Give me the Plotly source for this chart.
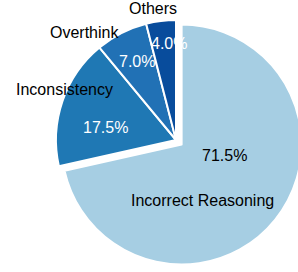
import plotly.graph_objects as go

# ---- data ----
categories = ["Incorrect Reasoning", "Inconsistency", "Overthink", "Others"]
shares = [71.5, 17.5, 7.0, 4.0]
pct_labels = ["71.5%", "17.5%", "7.0%", "4.0%"]

# ---- styling ----
colors = ["#a6cee3", "#1f78b4", "#2171b5", "#084c9c"]
pulls = [0.06, 0, 0, 0]
pct_colors = ["black", "white", "white", "white"]

W, H = 320, 272          # figure wider than the 298px window: right edge of pie is cropped as in reference
CX, CY, R = 176, 140, 120  # pie centre / radius in px
maxpull = max(pulls)
S = R * (1 + maxpull)

# text label positions (px)
name_pos = [(202, 200), (64, 90), (84.5, 32), (153, 8)]
pct_pos = [(224, 155), (105, 127), (137, 62), (169, 44)]

fig = go.Figure(
    go.Pie(
        labels=categories,
        values=shares,
        sort=False,
        direction="clockwise",
        rotation=0,
        pull=pulls,
        marker=dict(colors=colors, line=dict(color="white", width=2)),
        textinfo="none",
        hoverinfo="label+percent",
        showlegend=False,
        domain=dict(x=[(CX - S) / W, (CX + S) / W], y=[(H - CY - S) / H, (H - CY + S) / H]),
    )
)

font = "Liberation Sans, Arial, sans-serif"
ann = []
for name, (x, y) in zip(categories, name_pos):
    ann.append(dict(text=name, x=x / W, y=1 - y / H, xref="paper", yref="paper",
                    showarrow=False, xanchor="center", yanchor="middle",
                    font=dict(family=font, size=16, color="black")))
for t, (x, y), c in zip(pct_labels, pct_pos, pct_colors):
    ann.append(dict(text=t, x=x / W, y=1 - y / H, xref="paper", yref="paper",
                    showarrow=False, xanchor="center", yanchor="middle",
                    font=dict(family=font, size=16, color=c)))

fig.update_layout(
    width=W, height=H,
    margin=dict(l=0, r=0, t=0, b=0),
    paper_bgcolor="white", plot_bgcolor="white",
    annotations=ann,
)

fig.write_html(
    "out.html",
    config={"displayModeBar": False},
    post_script=(
        "document.documentElement.style.overflow='hidden';"
        "document.body.style.overflow='hidden';"
        "document.body.style.margin='0';document.body.style.padding='0';"
    ),
)
